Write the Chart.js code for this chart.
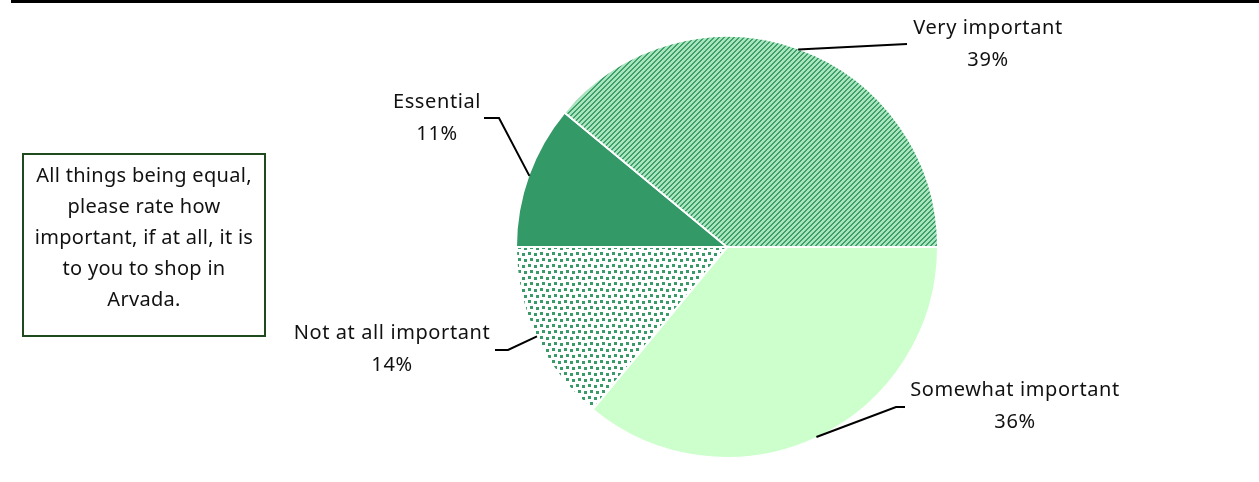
<!DOCTYPE html>
<html lang="en">
<head>
<meta charset="utf-8">
<script src="https://cdn.jsdelivr.net/npm/chart.js@4.4.1/dist/chart.umd.min.js"></script>
<style>
  html, body { margin: 0; padding: 0; background: #fff; }
  body { width: 1259px; height: 482px; position: relative; overflow: hidden; font-family: "Noto Sans", sans-serif; }
  #topline { position: absolute; left: 11px; top: 0; width: 1248px; height: 3px; background: #000; }
  #question {
    position: absolute; left: 22px; top: 153px; width: 240px; height: 176px;
    border: 2px solid #1e4a1e; text-align: center; font-size: 20px; line-height: 31px;
    letter-spacing: 0.3px; color: #111; padding-top: 4px; box-sizing: content-box; white-space: nowrap;
  }
  #wrap { position: absolute; left: 0; top: 0; width: 1259px; height: 482px; }
</style>
</head>
<body>
<div id="topline"></div>
<div id="wrap"><canvas id="pie"></canvas></div>
<div id="question">All things being equal,<br>please rate how<br>important, if at all, it is<br>to you to shop in<br>Arvada.</div>
<script>
// data
var categories = ["Essential", "Very important", "Somewhat important", "Not at all important"];
var shares = [11, 39, 36, 14];
var shareLabels = ["11%", "39%", "36%", "14%"];

// fill patterns
function stripes() {
  var c = document.createElement("canvas");
  c.width = 5; c.height = 5;
  var g = c.getContext("2d");
  for (var x = 0; x < 5; x++) {
    for (var y = 0; y < 5; y++) {
      g.fillStyle = ((x + y) % 5 < 2) ? "#3f9f6d" : "#a9e5bd";
      g.fillRect(x, y, 1, 1);
    }
  }
  return g.createPattern(c, "repeat");
}
function confetti() {
  var c = document.createElement("canvas");
  c.width = 12; c.height = 12;
  var g = c.getContext("2d");
  g.fillStyle = "#fff";
  g.fillRect(0, 0, 12, 12);
  g.fillStyle = "#3a9a68";
  [[0, 0], [6, 1], [2, 6], [8, 7]].forEach(function (p) {
    g.fillRect(p[0], p[1], 3, 3);
  });
  return g.createPattern(c, "repeat");
}

// where each label sits, relative to the pie centre
var labelPlace = [
  {elbow: [-228, -129], end: [-243, -129], text: [-290, -145]},
  {elbow: [180, -203], end: [180, -203], text: [261, -219]},
  {elbow: [169, 160], end: [178, 160], text: [288, 143]},
  {elbow: [-219, 103], end: [-232, 103], text: [-335, 86]}
];

var calloutPlugin = {
  id: "callouts",
  afterDatasetsDraw: function (chart) {
    var ctx = chart.ctx;
    var arcs = chart.getDatasetMeta(0).data;
    ctx.save();
    ctx.strokeStyle = "#000";
    ctx.lineWidth = 2;
    ctx.fillStyle = "#111";
    ctx.font = "20px 'Noto Sans'";
    ctx.letterSpacing = "0.6px";
    ctx.textAlign = "center";
    ctx.textBaseline = "middle";
    arcs.forEach(function (arc, i) {
      var p = arc.getProps(["x", "y", "startAngle", "endAngle", "outerRadius"], true);
      var mid = (p.startAngle + p.endAngle) / 2;
      var sx = p.x + Math.cos(mid) * (p.outerRadius - 1);
      var sy = p.y + Math.sin(mid) * (p.outerRadius - 1);
      var lp = labelPlace[i];
      ctx.beginPath();
      ctx.moveTo(sx, sy);
      ctx.lineTo(p.x + lp.elbow[0], p.y + lp.elbow[1]);
      ctx.lineTo(p.x + lp.end[0], p.y + lp.end[1]);
      ctx.stroke();
      ctx.fillText(categories[i], p.x + lp.text[0], p.y + lp.text[1]);
      ctx.fillText(shareLabels[i], p.x + lp.text[0], p.y + lp.text[1] + 32);
    });
    ctx.restore();
  }
};

new Chart(document.getElementById("pie"), {
  type: "pie",
  data: {
    labels: categories,
    datasets: [{
      data: shares,
      backgroundColor: ["#339966", stripes(), "#ccffcc", confetti()],
      borderColor: "#ffffff",
      borderWidth: 2
    }]
  },
  options: {
    responsive: true,
    maintainAspectRatio: false,
    animation: false,
    rotation: -90,
    layout: { padding: { left: 515, right: 320, top: 35, bottom: 23 } },
    plugins: { legend: { display: false }, tooltip: { enabled: false } }
  },
  plugins: [calloutPlugin]
});
</script>
</body>
</html>
